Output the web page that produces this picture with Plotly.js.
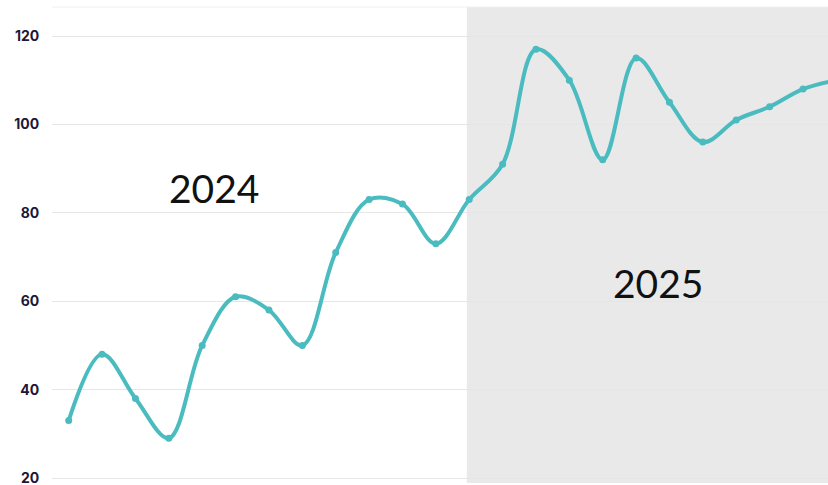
<!DOCTYPE html>
<html>
<head>
<meta charset="utf-8">
<script src="https://cdn.plot.ly/plotly-3.0.1.min.js"></script>
<style>
html,body{margin:0;padding:0;background:#fff;}
#chart{width:828px;height:485px;}
</style>
</head>
<body>
<div id="chart"></div>
<script>
var months = ["Jan 2024","Feb 2024","Mar 2024","Apr 2024","May 2024","Jun 2024","Jul 2024","Aug 2024","Sep 2024","Oct 2024","Nov 2024","Dec 2024",
              "Jan 2025","Feb 2025","Mar 2025","Apr 2025","May 2025","Jun 2025","Jul 2025","Aug 2025","Sep 2025","Oct 2025","Nov 2025","Dec 2025"];
var values = [33,48,38,29,50,61,58,50,71,83,82,73,
              83,91,117,110,92,115,105,96,101,104,108,110];
var yTicks = [20,40,60,80,100,120];
var periodLabels = ["2024","2025"];

var teal = "rgb(74,187,191)";

var trace = {
  x: months.map(function(m,i){return i;}),
  y: values,
  text: months,
  type: "scatter",
  mode: "lines+markers",
  line: {color: teal, width: 4, shape: "spline", smoothing: 1},
  marker: {color: teal, size: 7},
  hoverinfo: "text+y",
  cliponaxis: true
};

var layout = {
  width: 828, height: 485,
  margin: {l: 52, r: 0, t: 7, b: 2},
  paper_bgcolor: "#ffffff",
  plot_bgcolor: "#ffffff",
  showlegend: false,
  xaxis: {
    range: [-0.5, 22.75],
    showgrid: false, zeroline: false, showline: false,
    showticklabels: false, ticks: ""
  },
  yaxis: {
    range: [18.87, 126.56],
    tickvals: yTicks,
    ticktext: yTicks.map(String),
    showgrid: true, gridcolor: "#e6e6e6", gridwidth: 1,
    zeroline: false, showline: false,
    ticks: "outside", ticklen: 9, tickcolor: "rgba(0,0,0,0)",
    ticklabeloverflow: "allow",
    tickfont: {family: "Inter, Lato, sans-serif", size: 14, color: "#1d1838", weight: 700}
  },
  shapes: [
    {type: "rect", xref: "x", yref: "paper", x0: 11.93, x1: 30, y0: 0, y1: 1,
     fillcolor: "#e9e9e9", line: {width: 0}, layer: "below"},
    {type: "line", xref: "paper", yref: "paper", x0: 0, x1: 1, y0: 1, y1: 1,
     line: {color: "#f0f0f0", width: 1}, layer: "below"}
  ],
  annotations: [
    {x: 4.35, y: 85.7, xref: "x", yref: "y", text: periodLabels[0], showarrow: false,
     font: {family: "Lato, sans-serif", size: 39, color: "#111111"}},
    {x: 17.66, y: 64.2, xref: "x", yref: "y", text: periodLabels[1], showarrow: false,
     font: {family: "Lato, sans-serif", size: 39, color: "#111111"}}
  ]
};

Plotly.newPlot("chart", [trace], layout, {displayModeBar: false, staticPlot: true});
</script>
</body>
</html>
